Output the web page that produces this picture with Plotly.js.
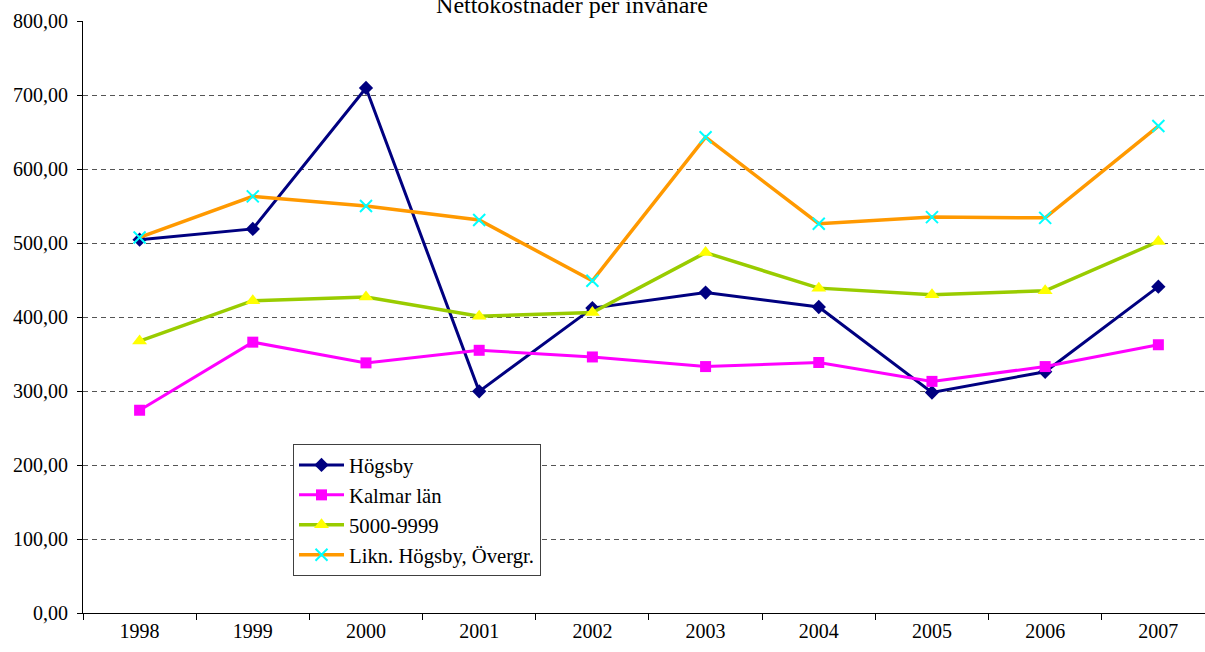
<!DOCTYPE html>
<html>
<head>
<meta charset="utf-8">
<script src="https://cdn.plot.ly/plotly-3.0.1.min.js"></script>
<style>html,body{margin:0;padding:0;background:#fff;}#chart{width:1205px;height:652px;}</style>
</head>
<body>
<div id="chart"></div>
<script>
var years = ["1998","1999","2000","2001","2002","2003","2004","2005","2006","2007"];
var hogsby = [504.5, 519, 709.5, 299.5, 412, 433, 413.5, 298, 326, 441];
var kalmar = [274, 366, 338, 355, 346, 333, 338.5, 313, 333, 362.5];
var grupp5000 = [367.5, 422, 427, 401, 406, 487, 439, 430, 435.5, 502];
var liknHogsby = [507.5, 563, 550, 531, 449, 643, 526, 535, 534, 658];
var seriesNames = ["Högsby", "Kalmar län", "5000-9999", "Likn. Högsby, Övergr."];
var titleText = "Nettokostnader per invånare";

var font = {family: "Liberation Serif, Times New Roman, serif", size: 20, color: "#000"};
var legendFont = {family: font.family, size: 20.7, color: "#000"};

var traces = [
  {x: years, y: hogsby, name: seriesNames[0], type: "scatter", mode: "lines+markers", legendgroup: "a",
   line: {color: "#000080", width: 3}, marker: {symbol: "diamond", size: 11, color: "#000080"}},
  {x: years, y: kalmar, name: seriesNames[1], type: "scatter", mode: "lines+markers", legendgroup: "b",
   line: {color: "#FF00FF", width: 3}, marker: {symbol: "square", size: 11, color: "#FF00FF"}},
  {x: years, y: grupp5000, name: seriesNames[2], type: "scatter", mode: "lines+markers", legendgroup: "c",
   line: {color: "#99CC00", width: 3.5}, marker: {symbol: "triangle-up", size: 13, color: "#FFFF00"}},
  {x: years, y: liknHogsby, name: seriesNames[3], type: "scatter", mode: "lines+markers", legendgroup: "d",
   line: {color: "#FF9900", width: 3.5}, marker: {symbol: "x-thin-open", size: 12, color: "#00FFFF", line: {color: "#00FFFF", width: 2}}}
];

var layout = {
  width: 1205, height: 652,
  margin: {l: 83, r: 0, t: 21, b: 39, pad: 0},
  paper_bgcolor: "#fff", plot_bgcolor: "#fff",
  font: font,
  separators: ", ",
  title: {text: titleText, font: {family: font.family, size: 24, color: "#000"},
          x: 572/1205, xanchor: "center", xref: "container", yref: "container", y: 1 - 4.3/652, yanchor: "middle"},
  xaxis: {type: "category", range: [-0.5, 9.412], tickson: "boundaries", ticks: "outside", ticklen: 6,
          tickcolor: "#000", tickwidth: 1, showline: true, linecolor: "#000", linewidth: 1,
          showgrid: false, zeroline: false, tickfont: font, fixedrange: true},
  yaxis: {range: [0, 800], dtick: 100, tickformat: ".2f", ticks: "outside", ticklen: 5, tickcolor: "#000",
          showline: true, linecolor: "#000", linewidth: 1, showgrid: true, gridcolor: "#555",
          griddash: "5px,4px", gridwidth: 1, zeroline: false, tickfont: font, ticklabelstandoff: 5},
  showlegend: true,
  legend: {x: (293-83)/1122, y: (613-444)/592, xanchor: "left", yanchor: "top",
           bgcolor: "#fff", bordercolor: "#404040", borderwidth: 1, font: legendFont,
           traceorder: "grouped", tracegroupgap: 0, itemwidth: 45}
};

Plotly.newPlot("chart", traces, layout, {displayModeBar: false, staticPlot: true});
</script>
</body>
</html>
